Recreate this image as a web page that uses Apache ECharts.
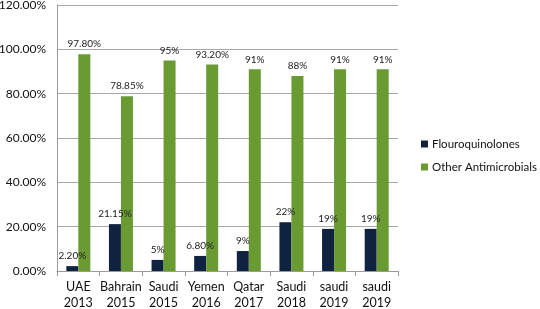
<!DOCTYPE html>
<html>
<head>
<meta charset="utf-8">
<script src="https://cdn.jsdelivr.net/npm/echarts@6/dist/echarts.min.js"></script>
<style>html,body{margin:0;padding:0;background:#fff}#c{width:540px;height:309px}</style>
</head>
<body>
<div id="c"></div>
<script>
var categories = ["UAE\n2013", "Bahrain\n2015", "Saudi\n2015", "Yemen\n2016", "Qatar\n2017", "Saudi\n2018", "saudi\n2019", "saudi\n2019"];
var fluoroValues = [2.2, 21.15, 5, 6.8, 9, 22, 19, 19];
var fluoroLabels = ["2.20%", "21.15%", "5%", "6.80%", "9%", "22%", "19%", "19%"];
var otherValues = [97.8, 78.85, 95, 93.2, 91, 88, 91, 91];
var otherLabels = ["97.80%", "78.85%", "95%", "93.20%", "91%", "88%", "91%", "91%"];
var seriesNames = ["Flouroquinolones", "Other Antimicrobials"];

var font = "Lato, 'Open Sans', sans-serif";
var chart = echarts.init(document.getElementById('c'), null, {renderer: 'canvas'});
function lbl(arr) {
  return {show: true, position: 'top', distance: 5, fontSize: 10, color: '#222', fontFamily: font,
    formatter: function (p) { return arr[p.dataIndex]; }};
}
chart.setOption({
  animation: false,
  grid: {left: 57, top: 5, right: 142, bottom: 38, containLabel: false, outerBoundsMode: 'none'},
  legend: {
    orient: 'vertical', left: 416, top: 133, itemWidth: 7, itemHeight: 7, itemGap: 11,
    icon: 'rect',
    textStyle: {fontSize: 11.5, color: '#111', fontFamily: font, padding: [0, 0, 0, -1]},
    data: seriesNames
  },
  xAxis: {
    type: 'category', data: categories,
    axisLine: {lineStyle: {color: '#9a9a9a'}},
    axisTick: {show: true, length: 5, lineStyle: {color: '#9a9a9a'}},
    axisLabel: {fontSize: 12.5, color: '#111', fontFamily: font, lineHeight: 16, margin: 8, interval: 0}
  },
  yAxis: {
    type: 'value', min: 0, max: 120, interval: 20,
    axisLine: {show: true, lineStyle: {color: '#9a9a9a'}},
    axisTick: {show: false},
    splitLine: {lineStyle: {color: '#a8a8a8'}},
    axisLabel: {fontSize: 12, color: '#111', fontFamily: font, margin: 11,
      formatter: function (v) { return v.toFixed(2) + '%'; }}
  },
  series: [
    {name: seriesNames[0], type: 'bar', data: fluoroValues, barWidth: 12, barGap: '0%',
     itemStyle: {color: '#0f2240'}, label: lbl(fluoroLabels)},
    {name: seriesNames[1], type: 'bar', data: otherValues, barWidth: 12,
     itemStyle: {color: '#6a9a32'}, label: lbl(otherLabels)}
  ]
});
</script>
</body>
</html>
